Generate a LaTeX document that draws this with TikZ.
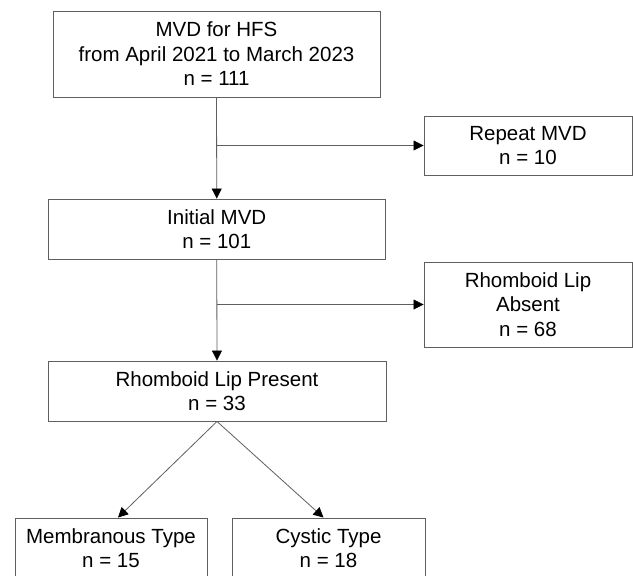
\documentclass[tikz,border=0pt]{standalone}
\usepackage{fontspec}
\setmainfont{Liberation Sans}
\usetikzlibrary{arrows.meta}
\definecolor{linegray}{RGB}{95,95,95}
\tikzset{
  box/.style={draw=linegray, line width=0.9pt, fill=white, align=center, inner sep=0pt,
    font=\fontsize{20.5}{24.5}\selectfont, text=black},
  conn/.style={draw=linegray, line width=0.8pt, -{Triangle[length=10pt,width=10pt,color=black]}},
  plain/.style={draw=linegray, line width=0.8pt}
}
\begin{document}
\begin{tikzpicture}[x=1pt,y=-1pt]
\useasboundingbox (0,0) rectangle (633,576);
\clip (0,0) rectangle (633,576);
\fill[white] (0,0) rectangle (633,576);
\node[box, minimum width=327pt, minimum height=86pt] (b1) at (216.5,54) {MVD for HFS\\from April 2021 to March 2023\\n = 111};
\node[box, minimum width=208pt, minimum height=59pt] (b2) at (528,145.5) {Repeat MVD\\n = 10};
\node[box, minimum width=337.5pt, minimum height=60pt] (b3) at (216.75,229) {Initial MVD\\n = 101};
\node[box, minimum width=208pt, minimum height=85pt] (b4) at (528,304.5) {Rhomboid Lip\\Absent\\n = 68};
\node[box, minimum width=338pt, minimum height=60pt] (b5) at (217,391) {Rhomboid Lip Present\\n = 33};
\node[box, minimum width=192pt, minimum height=60pt] (b6) at (111,548) {Membranous Type\\n = 15};
\node[box, minimum width=193pt, minimum height=60pt] (b7) at (328.5,548) {Cystic Type\\n = 18};
\coordinate (j1) at (b1.south |- b2.west);
\coordinate (j2) at (b3.south |- b4.west);
\draw[conn] (b1.south) -- (b3.north);
\draw[conn] (j1) -- (b2.west);
\draw[conn] (b3.south) -- (b5.north);
\draw[conn] (j2) -- (b4.west);
\draw[conn] (b5.south) -- ([xshift=7pt]b6.north);
\draw[conn] (b5.south) -- ([xshift=-5pt]b7.north);
\end{tikzpicture}
\end{document}
